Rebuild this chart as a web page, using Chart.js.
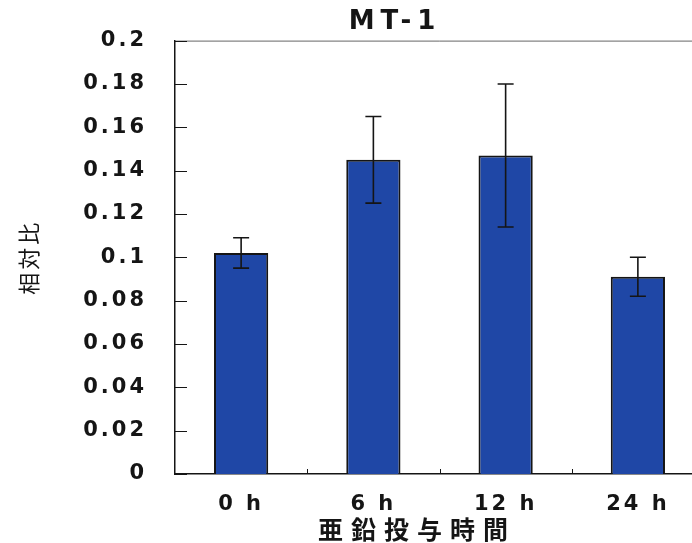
<!DOCTYPE html>
<html lang="ja">
<head>
<meta charset="utf-8">
<title>MT-1</title>
<script src="https://cdn.jsdelivr.net/npm/chart.js@4.4.1/dist/chart.umd.min.js"></script>
<style>
  html, body { margin: 0; padding: 0; background: #fff; overflow: hidden; }
  #wrap { width: 692px; height: 543px; overflow: hidden; }
  canvas { display: block; }
</style>
</head>
<body>
<div id="wrap"><canvas id="chart" width="720" height="543"></canvas></div>
<script>
const categories = ['0 h', '6 h', '12 h', '24 h'];
const means = [0.102, 0.145, 0.147, 0.091];
const errors = [0.007, 0.020, 0.033, 0.009];
const chartTitle = 'MT-1';
const xTitle = '亜鉛投与時間';
const yTitle = '相対比';

const ink = '#151515';
const tickFont = { family: 'DejaVu Sans', size: 21, weight: 'bold' };

// the scanned figure has widely spaced lettering
const spacing = {
  id: 'spacing',
  beforeDraw(chart) { chart.ctx.letterSpacing = '3px'; },
  afterDraw(chart) { chart.ctx.letterSpacing = '0px'; }
};

// top/right frame and the short inward tick marks
const frame = {
  id: 'frame',
  beforeDatasetsDraw(chart) {
    const { ctx, chartArea: a, scales: { x, y } } = chart;
    ctx.save();
    ctx.strokeStyle = '#666';
    ctx.lineWidth = 1;
    ctx.beginPath();
    ctx.moveTo(a.left, a.top + 0.5);
    ctx.lineTo(a.right + 0.5, a.top + 0.5);
    ctx.lineTo(a.right + 0.5, a.bottom);
    ctx.stroke();

    ctx.strokeStyle = ink;
    ctx.beginPath();
    y.ticks.forEach(t => {
      const py = Math.round(y.getPixelForValue(t.value)) + 0.5;
      ctx.moveTo(a.left, py);
      ctx.lineTo(a.left + 12, py);
    });
    for (let i = 1; i < categories.length; i++) {
      const px = Math.round((x.getPixelForValue(i - 1) + x.getPixelForValue(i)) / 2) + 0.5;
      ctx.moveTo(px, a.bottom);
      ctx.lineTo(px, a.bottom - 5);
    }
    ctx.stroke();
    ctx.restore();
  }
};

const errorBars = {
  id: 'errorBars',
  afterDatasetsDraw(chart) {
    const { ctx, scales: { y } } = chart;
    const bars = chart.getDatasetMeta(0).data;
    ctx.save();
    ctx.strokeStyle = ink;
    ctx.lineWidth = 1.6;
    bars.forEach((bar, i) => {
      const top = y.getPixelForValue(means[i] + errors[i]);
      const bottom = y.getPixelForValue(means[i] - errors[i]);
      ctx.beginPath();
      ctx.moveTo(bar.x, top);
      ctx.lineTo(bar.x, bottom);
      ctx.moveTo(bar.x - 8, top);
      ctx.lineTo(bar.x + 8, top);
      ctx.moveTo(bar.x - 8, bottom);
      ctx.lineTo(bar.x + 8, bottom);
      ctx.stroke();
    });
    ctx.restore();
  }
};

const titles = {
  id: 'titles',
  afterDraw(chart) {
    const ctx = chart.ctx;
    ctx.save();
    ctx.fillStyle = ink;
    ctx.textAlign = 'center';
    ctx.textBaseline = 'middle';
    ctx.letterSpacing = '6px';
    ctx.font = 'bold 26px "DejaVu Sans"';
    ctx.fillText(chartTitle, 395, 22);
    ctx.letterSpacing = '8px';
    ctx.font = 'bold 25px "Noto Sans CJK JP"';
    ctx.fillText(xTitle, 417, 529);
    ctx.restore();
  }
};

new Chart(document.getElementById('chart'), {
  type: 'bar',
  data: {
    labels: categories,
    datasets: [{
      data: means,
      backgroundColor: '#1f47a6',
      borderColor: ink,
      borderWidth: 2,
      categoryPercentage: 1,
      barPercentage: 0.41
    }]
  },
  options: {
    responsive: false,
    animation: false,
    events: [],
    layout: { padding: { top: 37, right: 16, bottom: 0, left: 0 } },
    plugins: {
      legend: { display: false },
      tooltip: { enabled: false },
      title: { display: false }
    },
    scales: {
      x: {
        grid: { display: false, drawTicks: false },
        border: { display: true, color: ink, width: 1.5 },
        ticks: { color: ink, font: tickFont, padding: 18, maxRotation: 0, autoSkip: false },
        afterFit(s) { s.height = 69; }
      },
      y: {
        min: 0,
        max: 0.2,
        grid: { display: false, drawTicks: false },
        border: { display: true, color: ink, width: 1.5 },
        ticks: {
          stepSize: 0.02,
          color: ink,
          font: tickFont,
          padding: 28,
          callback: v => String(+v.toFixed(2))
        },
        title: {
          display: true,
          text: yTitle,
          color: ink,
          font: { family: 'Noto Sans CJK JP', size: 22 },
          padding: { top: 15, bottom: 0 }
        },
        afterFit(s) { s.width = 175; }
      }
    }
  },
  plugins: [spacing, frame, errorBars, titles]
});
</script>
</body>
</html>
